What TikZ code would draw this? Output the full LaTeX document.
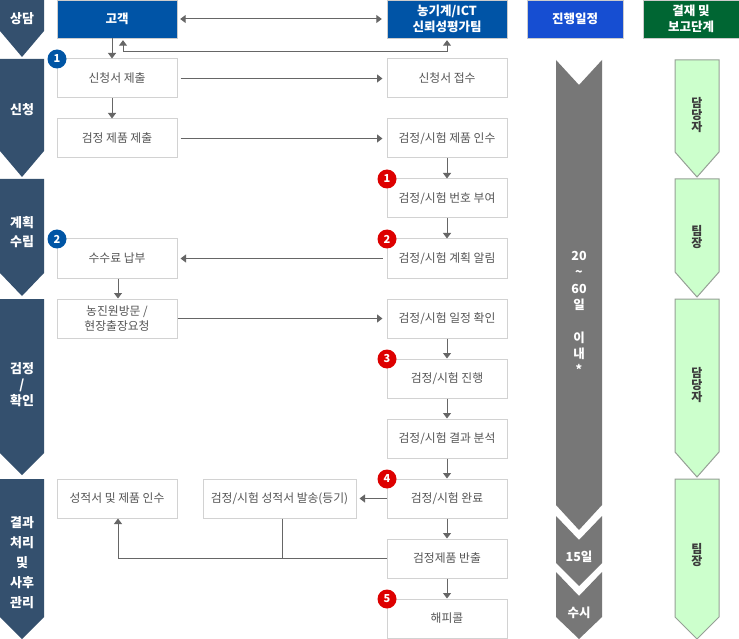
\documentclass[tikz,border=0pt]{standalone}
\usepackage{fontspec}
\setmainfont{Noto Sans CJK KR}
\usetikzlibrary{arrows.meta,calc}
\definecolor{stagec}{RGB}{52,80,110}
\definecolor{hblue}{RGB}{0,84,166}
\definecolor{sblue}{RGB}{22,78,210}
\definecolor{hgreen}{RGB}{0,102,51}
\definecolor{gfill}{RGB}{204,255,204}
\definecolor{gline}{RGB}{150,160,150}
\definecolor{tgray}{RGB}{119,119,119}
\definecolor{boxb}{RGB}{210,210,210}
\definecolor{txtc}{RGB}{85,85,85}
\definecolor{linec}{RGB}{102,102,102}
\definecolor{bblue}{RGB}{0,85,165}
\definecolor{bred}{RGB}{221,0,0}
\definecolor{gtxt}{RGB}{60,60,60}
\begin{document}
\begin{tikzpicture}[x=1pt,y=-1pt,
  box/.style={draw=boxb, fill=white, line width=1pt, minimum width=120pt, minimum height=39pt, inner sep=0pt, text=txtc, font=\fontsize{11.8}{15.5}\selectfont, align=center},
  hdr/.style={draw=gray!40, minimum width=120pt, minimum height=38pt, text=white, font=\bfseries\fontsize{12.5}{16}\selectfont, align=center, inner sep=0pt},
  conn/.style={draw=linec, line width=1pt},
  arr/.style={conn, -{Triangle[width=8pt,length=5.5pt]}},
  darr/.style={conn, {Triangle[width=8pt,length=5.5pt]}-{Triangle[width=8pt,length=5.5pt]}},
  badge/.style={circle, minimum size=19pt, inner sep=0pt, text=white, font=\bfseries\fontsize{11}{11}\selectfont},
  stagetxt/.style={text=white, font=\bfseries\fontsize{13}{19}\selectfont, align=center},
  gtext/.style={text=gtxt, font=\bfseries\fontsize{12}{11}\selectfont, align=center},
  ttext/.style={text=white, font=\bfseries\fontsize{12.5}{16.3}\selectfont, align=center}
]
\useasboundingbox[fill=white] (0,0) rectangle (739,639);

% left stage column
\fill[stagec] (0,0) -- (44,0) -- (44,31) -- (22,57) -- (0,31) -- cycle;
\fill[stagec] (0,59) -- (44,59) -- (44,151) -- (22,177) -- (0,151) -- cycle;
\fill[stagec] (0,179) -- (44,179) -- (44,273) -- (22,296) -- (0,273) -- cycle;
\fill[stagec] (0,299) -- (44,299) -- (44,453) -- (22,475) -- (0,453) -- cycle;
\fill[stagec] (0,479) -- (44,479) -- (44,617) -- (22,639) -- (0,617) -- cycle;
\node[stagetxt] (s1) at (22,19) {상담};
\node[stagetxt] (s2) at (22,110) {신청};
\node[stagetxt] (s3) at (22,232) {계획\\수립};
\node[stagetxt, font=\bfseries\fontsize{13}{16}\selectfont] (s4) at (22,385) {검정\\/\\확인};
\node[stagetxt, font=\bfseries\fontsize{13}{20}\selectfont] (s5) at (22,563) {결과\\처리\\및\\사후\\관리};

% headers
\node[hdr, fill=hblue] (gk) at (117,19) {고객};
\node[hdr, fill=hblue] (ng) at (447,19) {농기계/ICT\\신뢰성평가팀};
\node[hdr, fill=sblue, minimum width=96pt] (sch) at (575,19) {진행일정};
\node[hdr, fill=hgreen, minimum width=96pt] (appr) at (691,19) {결재 및\\보고단계};

% timeline column
\fill[tgray] (556,60) -- (579,85) -- (602,60) -- (602,505) -- (579,530) -- (556,505) -- cycle;
\fill[tgray] (556,516) -- (579,540) -- (602,516) -- (602,563) -- (579,586) -- (556,563) -- cycle;
\fill[tgray] (556,572) -- (579,596) -- (602,572) -- (602,617) -- (579,639) -- (556,617) -- cycle;
\node[ttext] (t1) at (579,313) {20\\\textasciitilde\\60\\일\\\mbox{}\\이\\내\\*};
\node[ttext] (t2) at (579,557) {15일};
\node[ttext] (t3) at (579,613) {수시};

% approval column
\filldraw[fill=gfill, draw=gline, line width=1pt] (675,60) -- (719,60) -- (719,152) -- (697,177) -- (675,152) -- cycle;
\filldraw[fill=gfill, draw=gline, line width=1pt] (675,179) -- (719,179) -- (719,272) -- (697,297) -- (675,272) -- cycle;
\filldraw[fill=gfill, draw=gline, line width=1pt] (675,299) -- (719,299) -- (719,452) -- (697,477) -- (675,452) -- cycle;
\filldraw[fill=gfill, draw=gline, line width=1pt] (675,479) -- (719,479) -- (719,617) -- (697,639) -- (675,617) -- cycle;
\node[gtext] (g1) at (697,115) {담\\당\\자};
\node[gtext] (g2) at (697,237) {팀\\장};
\node[gtext] (g3) at (697,385) {담\\당\\자};
\node[gtext] (g4) at (697,555) {팀\\장};

% boxes
\node[box] (l1) at (117,78.5) {신청서 제출};
\node[box] (l2) at (117,138.5) {검정 제품 제출};
\node[box] (l4) at (117,258.5) {수수료 납부};
\node[box] (l5) at (117,318.5) {농진원방문 /\\현장출장요청};
\node[box] (l8) at (117,498.5) {성적서 및 제품 인수};
\node[box, minimum width=153pt] (m8) at (279.5,498.5) {검정/시험 성적서 발송(등기)};
\node[box] (r1) at (447,78.5) {신청서 접수};
\node[box] (r2) at (447,138.5) {검정/시험 제품 인수};
\node[box] (r3) at (447,198.5) {검정/시험 번호 부여};
\node[box] (r4) at (447,258.5) {검정/시험 계획 알림};
\node[box] (r5) at (447,318.5) {검정/시험 일정 확인};
\node[box] (r6) at (447,378.5) {검정/시험 진행};
\node[box] (r7) at (447,438.5) {검정/시험 결과 분석};
\node[box] (r8) at (447,498.5) {검정/시험 완료};
\node[box] (r9) at (447,558.5) {검정제품 반출};
\node[box] (r10) at (447,618.5) {해피콜};

% badges
\node[badge, fill=bblue] (b1) at (57,59) {1};
\node[badge, fill=bblue] (b2) at (57,239) {2};
\node[badge, fill=bred] (c1) at (387,179) {1};
\node[badge, fill=bred] (c2) at (387,239) {2};
\node[badge, fill=bred] (c3) at (387,359) {3};
\node[badge, fill=bred] (c4) at (387,479) {4};
\node[badge, fill=bred] (c5) at (387,599) {5};

% connectors
\draw[darr, shorten <=3pt, shorten >=5pt] (gk.east) -- (ng.west);
\draw[darr, shorten <=2pt, shorten >=2pt] ([xshift=6pt]gk.south) -- ++(0,13) -| (ng.south);
\draw[arr] ([xshift=-5pt]gk.south) -- ([xshift=-5pt]l1.north);
\draw[arr] ([xshift=-5pt]l1.south) -- ([xshift=-5pt]l2.north);
\draw[arr] ([xshift=1pt]l4.south) -- ([xshift=1pt]l5.north);
\draw[arr, shorten <=3pt, shorten >=4pt] (l1.east) -- (r1.west);
\draw[arr, shorten <=3pt, shorten >=4pt] (l2.east) -- (r2.west);
\draw[arr, shorten <=4pt, shorten >=3pt] (r4.west) -- (l4.east);
\draw[arr, shorten <=0pt, shorten >=4pt] (l5.east) -- (r5.west);
\draw[arr, shorten <=0pt, shorten >=3pt] (r8.west) -- (m8.east);
\draw[arr] (r2.south) -- (r3.north);
\draw[arr] (r3.south) -- (r4.north);
\draw[arr] (r5.south) -- (r6.north);
\draw[arr] (r6.south) -- (r7.north);
\draw[arr] (r7.south) -- (r8.north);
\draw[arr] (r8.south) -- (r9.north);
\draw[arr] (r9.south) -- (r10.north);
\draw[arr] (r9.west) -| ([xshift=1pt]l8.south);
\coordinate (j) at ($(m8.south)+(3,0)$);
\draw[conn] (j) -- (j |- r9.west);
\end{tikzpicture}
\end{document}
